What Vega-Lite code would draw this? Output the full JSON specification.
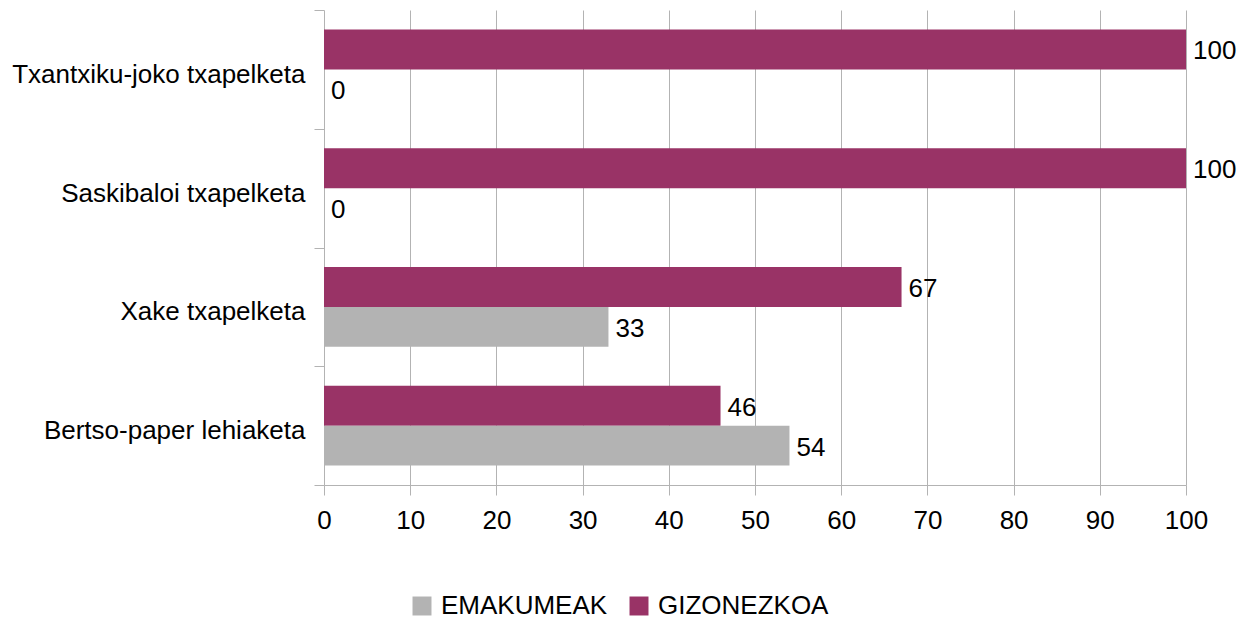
{
  "$schema": "https://vega.github.io/schema/vega-lite/v6.json",
  "width": 862,
  "height": 475,
  "autosize": {"type": "none"},
  "padding": {"left": 324, "top": 10, "right": 62, "bottom": 134},
  "background": "white",
  "config": {
    "font": "Liberation Sans",
    "view": {"stroke": null}
  },
  "data": {
    "values": [
      {"category": "Txantxiku-joko txapelketa", "group": "GIZONEZKOA", "value": 100},
      {"category": "Txantxiku-joko txapelketa", "group": "EMAKUMEAK", "value": 0},
      {"category": "Saskibaloi txapelketa", "group": "GIZONEZKOA", "value": 100},
      {"category": "Saskibaloi txapelketa", "group": "EMAKUMEAK", "value": 0},
      {"category": "Xake txapelketa", "group": "GIZONEZKOA", "value": 67},
      {"category": "Xake txapelketa", "group": "EMAKUMEAK", "value": 33},
      {"category": "Bertso-paper lehiaketa", "group": "GIZONEZKOA", "value": 46},
      {"category": "Bertso-paper lehiaketa", "group": "EMAKUMEAK", "value": 54}
    ]
  },
  "layer": [
    {
      "mark": {"type": "rule", "color": "#b3b3b3", "x": -10, "x2": 862, "y": 0},
      "encoding": {}
    },
    {
      "encoding": {
        "y": {
          "field": "category",
          "type": "nominal",
          "sort": null,
          "scale": {"paddingInner": 0, "paddingOuter": 0},
          "axis": {
            "title": null,
            "tickBand": "extent",
            "ticks": true,
            "grid": false,
            "tickSize": 10,
            "tickColor": "#b3b3b3",
            "domain": false,
            "labelFontSize": 26,
            "labelColor": "black",
            "labelPadding": 9,
            "labelOffset": 5,
            "labelLimit": 400
          }
        },
        "yOffset": {
          "field": "group",
          "type": "nominal",
          "sort": ["GIZONEZKOA", "EMAKUMEAK"],
          "scale": {"paddingInner": 0, "paddingOuter": 0.49}
        },
        "x": {
          "field": "value",
          "type": "quantitative",
          "scale": {"domain": [0, 100], "nice": false},
          "axis": {
            "title": null,
            "values": [0, 10, 20, 30, 40, 50, 60, 70, 80, 90, 100],
            "grid": true,
            "gridColor": "#b3b3b3",
            "domainColor": "#b3b3b3",
            "tickColor": "#b3b3b3",
            "tickSize": 10,
            "labelFlush": false,
            "labelFontSize": 26,
            "labelColor": "black",
            "labelPadding": 12
          }
        }
      },
      "layer": [
        {
          "mark": {"type": "bar"},
          "encoding": {
            "color": {
              "field": "group",
              "type": "nominal",
              "scale": {"domain": ["EMAKUMEAK", "GIZONEZKOA"], "range": ["#b3b3b3", "#993366"]},
              "legend": {
                "title": null,
                "orient": "none",
                "direction": "horizontal",
                "legendX": 85,
                "legendY": 583,
                "symbolType": "square",
                "symbolSize": 360,
                "symbolStrokeWidth": 0,
                "labelFontSize": 26,
                "labelLimit": 400,
                "labelColor": "black",
                "columnPadding": 18,
                "symbolOffset": 0,
                "labelOffset": 6
              }
            }
          }
        },
        {
          "mark": {"type": "text", "align": "left", "baseline": "middle", "dx": 7, "dy": 2, "fontSize": 26, "color": "black"},
          "encoding": {
            "text": {"field": "value", "type": "quantitative"}
          }
        }
      ]
    }
  ]
}
